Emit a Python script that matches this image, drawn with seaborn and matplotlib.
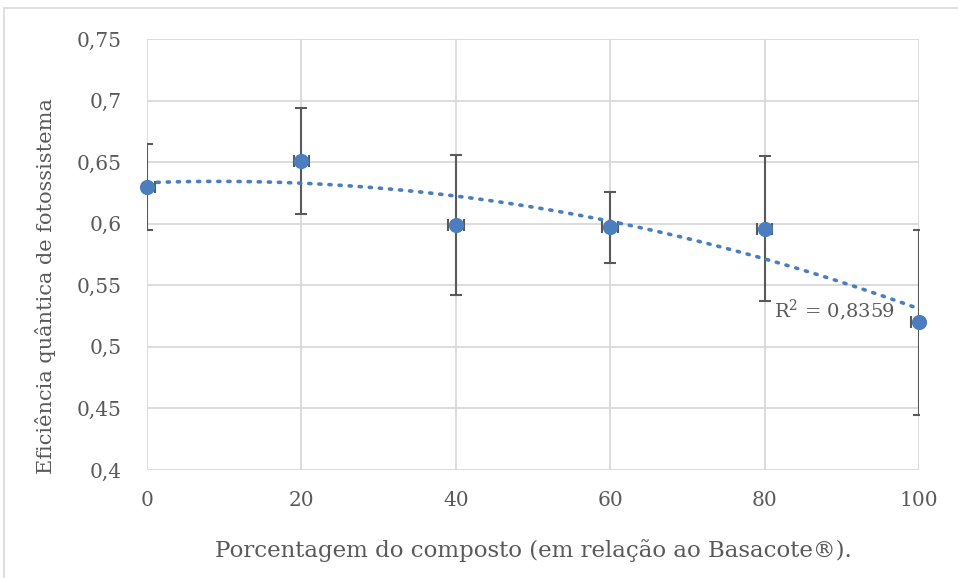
import numpy as np
import pandas as pd
import matplotlib
matplotlib.use("Agg")
import matplotlib.pyplot as plt
import seaborn as sns
from matplotlib.patches import Rectangle

# Data
x_pct = [0, 20, 40, 60, 80, 100]
y_eff = [0.630, 0.651, 0.599, 0.597, 0.596, 0.520]
y_err = [0.035, 0.043, 0.057, 0.029, 0.059, 0.075]
x_err = [1, 1, 1, 1, 1, 1]
x_ticks = [0, 20, 40, 60, 80, 100]
y_ticks = [0.4, 0.45, 0.5, 0.55, 0.6, 0.65, 0.7, 0.75]
y_tick_labels = ["0,4", "0,45", "0,5", "0,55", "0,6", "0,65", "0,7", "0,75"]
r2_label = "R$^2$ = 0,8359"
x_title = "Porcentagem do composto (em relação ao Basacote®)."
y_title = "Eficiência quântica de fotossistema"

df = pd.DataFrame({"x": x_pct, "y": y_eff})

sns.set_theme(style="white")
plt.rcParams["font.family"] = ["DejaVu Serif"]
plt.rcParams["mathtext.fontset"] = "dejavuserif"

blue = "#4A7EBF"
grey_txt = "#595959"
grid_c = "#D9D9D9"

fig = plt.figure(figsize=(9.58, 5.78), dpi=100)
fig.patches.append(Rectangle((4/958, -0.1), 1.2, (578-8)/578 + 0.1,
                             transform=fig.transFigure, fill=False,
                             edgecolor="#D9D9D9", linewidth=1.2))
ax = fig.add_axes([147/958, 1-470/578, (919-147)/958, (470-39)/578])

ax.errorbar(x_pct, y_eff, yerr=y_err, xerr=x_err, fmt="none",
            ecolor="#595959", elinewidth=1.5, capsize=4, capthick=1.5, zorder=3)
sns.regplot(data=df, x="x", y="y", order=2, ci=None, scatter=False, ax=ax,
            line_kws=dict(color=blue, linestyle=(0, (0.6, 2.2)), linewidth=2.6,
                          dash_capstyle="round", zorder=4))
sns.scatterplot(data=df, x="x", y="y", ax=ax, s=120, color=blue,
                edgecolor=blue, linewidth=0, zorder=5, clip_on=False)

ax.set_xlim(0, 100)
ax.set_ylim(0.4, 0.75)
ax.set_xticks(x_ticks)
ax.set_xticklabels([str(v) for v in x_ticks])
ax.set_yticks(y_ticks)
ax.set_yticklabels(y_tick_labels)
ax.grid(True, color=grid_c, linewidth=1.3)
ax.set_axisbelow(True)
for s in ax.spines.values():
    s.set_visible(False)
ax.tick_params(axis="both", length=0, labelsize=14.5, labelcolor=grey_txt)
ax.tick_params(axis="y", pad=18)
ax.tick_params(axis="x", pad=15)

ax.set_xlabel(x_title, fontsize=16.5, color=grey_txt)
ax.set_ylabel(y_title, fontsize=15, color=grey_txt)
ax.xaxis.set_label_coords((533 - 147) / 772, (470 - 539) / 431)
ax.yaxis.set_label_coords((56 - 147) / 772, (470 - 286) / 431)

ax.text(81.2, 0.53, r2_label, fontsize=14, color=grey_txt, ha="left", va="center")

fig.savefig("out.png", dpi=100)
